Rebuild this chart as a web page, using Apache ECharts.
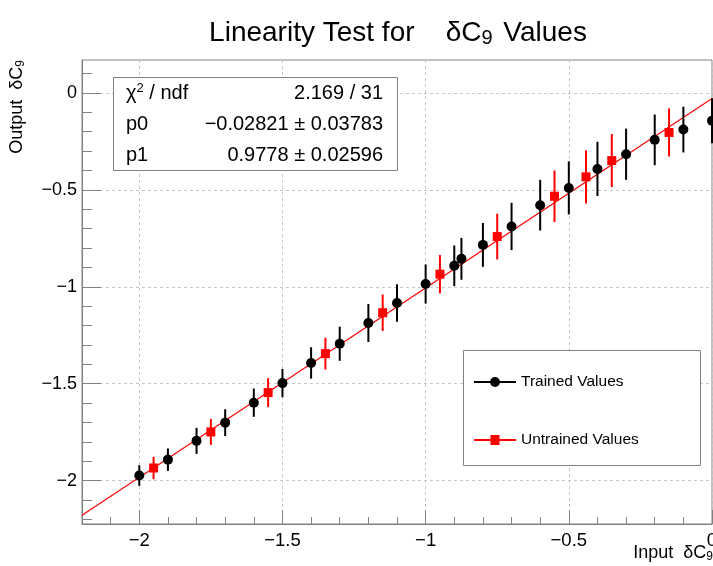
<!DOCTYPE html>
<html>
<head>
<meta charset="utf-8">
<script src="https://cdn.jsdelivr.net/npm/echarts@6/dist/echarts.min.js"></script>
<style>html,body{margin:0;padding:0;background:#fff}#c{width:713px;height:566px}</style>
</head>
<body>
<div id="c"></div>
<script>
// ---- data ----
const trainedX   = [-2.0, -1.9, -1.8, -1.7, -1.6, -1.5, -1.4, -1.3, -1.2, -1.1, -1.0, -0.9, -0.875, -0.8, -0.7, -0.6, -0.5, -0.4, -0.3, -0.2, -0.1, 0.0];
const trainedY   = [-1.974, -1.892, -1.795, -1.701, -1.598, -1.497, -1.393, -1.294, -1.187, -1.084, -0.986, -0.892, -0.856, -0.784, -0.689, -0.579, -0.490, -0.392, -0.316, -0.242, -0.189, -0.143];
const trainedErr = [0.053, 0.058, 0.067, 0.069, 0.073, 0.073, 0.081, 0.088, 0.098, 0.097, 0.101, 0.105, 0.108, 0.113, 0.122, 0.131, 0.137, 0.140, 0.132, 0.131, 0.118, 0.116];

const untrainedX   = [-1.95, -1.75, -1.55, -1.35, -1.15, -0.95, -0.75, -0.55, -0.44, -0.35, -0.15];
const untrainedY   = [-1.935, -1.749, -1.546, -1.345, -1.134, -0.935, -0.741, -0.533, -0.433, -0.349, -0.204];
const untrainedErr = [0.058, 0.067, 0.075, 0.082, 0.094, 0.099, 0.118, 0.133, 0.137, 0.137, 0.124];

const fitP0 = -0.02821, fitP0Err = 0.03783;
const fitP1 = 0.9778, fitP1Err = 0.02596;
const chi2 = 2.169, ndf = 31;
const fitRange = [-2.2, 0];

const xMajor = [-2, -1.5, -1, -0.5, 0];
const xMinor = [-2.2, -2.1, -2.0, -1.9, -1.8, -1.7, -1.6, -1.5, -1.4, -1.3, -1.2, -1.1, -1.0, -0.9, -0.8, -0.7, -0.6, -0.5, -0.4, -0.3, -0.2, -0.1, 0];
const yMajor = [-2, -1.5, -1, -0.5, 0];
const yMinor = [-2.2, -2.1, -2.0, -1.9, -1.8, -1.7, -1.6, -1.5, -1.4, -1.3, -1.2, -1.1, -1.0, -0.9, -0.8, -0.7, -0.6, -0.5, -0.4, -0.3, -0.2, -0.1, 0, 0.1];

const X_MIN = -2.2, X_MAX = 0, Y_MIN = -2.224, Y_MAX = 0.17;
// ---- chart ----
const FONT = "'Liberation Sans', Arial, Helvetica, sans-serif";
const fmt = v => (v < 0 ? '\u2212' : '') + Math.abs(+(+v).toFixed(5));
const AX = '#808080';

const pts = (xs, ys) => xs.map((x, i) => [x, ys[i]]);
const errData = (xs, ys, es) => xs.map((x, i) => [x, ys[i] - es[i], ys[i] + es[i]]);
function errBar(color) {
  return function (params, api) {
    const a = api.coord([api.value(0), api.value(1)]);
    const b = api.coord([api.value(0), api.value(2)]);
    return { type: 'line', shape: { x1: a[0], y1: a[1], x2: b[0], y2: b[1] },
             style: { stroke: color, lineWidth: 2 } };
  };
}

const circleIcon = 'path://M0,4 L42,4 L42,6 L0,6 Z M16,5 A5,5 0 1,1 26,5 A5,5 0 1,1 16,5 Z';
const squareIcon = 'path://M0,4 L42,4 L42,6 L0,6 Z M16.5,0 L25.5,0 L25.5,10 L16.5,10 Z';

const baseX = { type: 'value', min: X_MIN, max: X_MAX, position: 'bottom' };
const baseY = { type: 'value', min: Y_MIN, max: Y_MAX, position: 'left' };
const txt = (size) => ({ fontFamily: FONT, fontSize: size, fill: '#000', fontWeight: 'normal' });

const option = {
  animation: false,
  backgroundColor: '#fff',
  title: {
    text: '{a|Linearity Test for    \u03b4C}{s|9}{a| Values}',
    left: 393, top: 13, textAlign: 'center',
    textStyle: { fontWeight: 'normal', rich: {
      a: { fontFamily: FONT, fontSize: 28, color: '#000', fontWeight: 'normal', lineHeight: 30 },
      s: { fontFamily: FONT, fontSize: 20, color: '#000', fontWeight: 'normal', lineHeight: 20, verticalAlign: 'bottom', padding: [0, 3, 0, 0] }
    } }
  },
  grid: { left: 82, right: 1, top: 60, bottom: 42, show: true, borderColor: AX, borderWidth: 1,
          backgroundColor: 'transparent', containLabel: false, outerBoundsMode: 'none' },
  xAxis: [
    Object.assign({}, baseX, {
      axisLine: { show: true, onZero: false, lineStyle: { color: AX } },
      axisTick: { show: true, inside: true, length: 7, customValues: xMinor, lineStyle: { color: AX } },
      axisLabel: { show: false }, splitLine: { show: false }
    }),
    Object.assign({}, baseX, {
      axisLine: { show: false, onZero: false },
      axisTick: { show: true, inside: true, length: 14, customValues: xMajor, lineStyle: { color: AX } },
      axisLabel: { show: true, customValues: xMajor, formatter: fmt, fontFamily: FONT, fontSize: 18.5, color: '#000', margin: 7 },
      splitLine: { show: true, lineStyle: { color: '#c8c8c8', type: [3, 3], width: 1 } }
    })
  ],
  yAxis: [
    Object.assign({}, baseY, {
      axisLine: { show: true, onZero: false, lineStyle: { color: AX } },
      axisTick: { show: true, inside: true, length: 10, customValues: yMinor, lineStyle: { color: AX } },
      axisLabel: { show: false }, splitLine: { show: false }
    }),
    Object.assign({}, baseY, {
      axisLine: { show: false, onZero: false },
      axisTick: { show: true, inside: true, length: 19, customValues: yMajor, lineStyle: { color: AX } },
      axisLabel: { show: true, customValues: yMajor, formatter: fmt, fontFamily: FONT, fontSize: 18, color: '#000', margin: 5 },
      splitLine: { show: true, lineStyle: { color: '#c8c8c8', type: [3, 3], width: 1 } }
    })
  ],
  legend: {
    orient: 'vertical', left: 474, top: 374, padding: 0, itemWidth: 42, itemHeight: 10, itemGap: 42,
    selectedMode: false, z: 10,
    textStyle: { fontFamily: FONT, fontSize: 15.5, color: '#000', lineHeight: 16 },
    data: [{ name: 'Trained Values', icon: circleIcon }, { name: 'Untrained Values', icon: squareIcon }]
  },
  graphic: [
    { type: 'rect', z: 8, shape: { x: 113.5, y: 77.5, width: 284, height: 93 },
      style: { fill: '#fff', stroke: '#808080', lineWidth: 1 } },
    { type: 'text', z: 9, x: 126, y: 93, style: { text: '{a|\u03c7}{p|2}{a| / ndf}', verticalAlign: 'middle',
      rich: { a: Object.assign(txt(20), { lineHeight: 22 }), p: Object.assign(txt(13), { verticalAlign: 'top', lineHeight: 13 }) } } },
    { type: 'text', z: 9, x: 383, y: 93, style: Object.assign(txt(20), { text: chi2.toFixed(3) + ' / ' + ndf, align: 'right', verticalAlign: 'middle' }) },
    { type: 'text', z: 9, x: 126, y: 124, style: Object.assign(txt(20), { text: 'p0', verticalAlign: 'middle' }) },
    { type: 'text', z: 9, x: 383, y: 124, style: Object.assign(txt(20), { text: fmt(fitP0) + ' \u00b1 ' + fitP0Err.toFixed(5), align: 'right', verticalAlign: 'middle' }) },
    { type: 'text', z: 9, x: 126, y: 155, style: Object.assign(txt(20), { text: 'p1', verticalAlign: 'middle' }) },
    { type: 'text', z: 9, x: 383, y: 155, style: Object.assign(txt(20), { text: fitP1.toFixed(4) + ' \u00b1 ' + fitP1Err.toFixed(5), align: 'right', verticalAlign: 'middle' }) },
    { type: 'rect', z: 8, shape: { x: 463.5, y: 350.5, width: 237, height: 115 },
      style: { fill: '#fff', stroke: '#808080', lineWidth: 1 } },
    { type: 'text', z: 9, x: 17, y: 60, rotation: Math.PI / 2,
      style: { text: '{a|Output  \u03b4C}{s|9}', align: 'right', verticalAlign: 'middle',
        rich: { a: Object.assign(txt(18), { lineHeight: 20 }), s: Object.assign(txt(12), { verticalAlign: 'bottom', lineHeight: 12 }) } } },
    { type: 'text', z: 9, x: 713, y: 553,
      style: { text: '{a|Input  \u03b4C}{s|9}', align: 'right', verticalAlign: 'middle',
        rich: { a: Object.assign(txt(18), { lineHeight: 20 }), s: Object.assign(txt(12), { verticalAlign: 'bottom', lineHeight: 12 }) } } }
  ],
  series: [
    { name: 'fit', type: 'line', xAxisIndex: 0, yAxisIndex: 0, showSymbol: false, silent: true, z: 1,
      data: fitRange.map(x => [x, fitP0 + fitP1 * x]), lineStyle: { color: '#ff0000', width: 1.2 } },
    { name: 'trainedErr', type: 'custom', xAxisIndex: 0, yAxisIndex: 0, z: 2, silent: true,
      data: errData(trainedX, trainedY, trainedErr), renderItem: errBar('#000'), encode: { x: 0, y: [1, 2] } },
    { name: 'Trained Values', type: 'scatter', xAxisIndex: 0, yAxisIndex: 0, z: 3, symbol: 'circle', symbolSize: 10,
      itemStyle: { color: '#000', opacity: 1 }, data: pts(trainedX, trainedY) },
    { name: 'untrainedErr', type: 'custom', xAxisIndex: 0, yAxisIndex: 0, z: 4, silent: true,
      data: errData(untrainedX, untrainedY, untrainedErr), renderItem: errBar('#ff0000'), encode: { x: 0, y: [1, 2] } },
    { name: 'Untrained Values', type: 'scatter', xAxisIndex: 0, yAxisIndex: 0, z: 5, symbol: 'rect', symbolSize: 9,
      itemStyle: { color: '#ff0000', opacity: 1 }, data: pts(untrainedX, untrainedY) }
  ]
};
const chart = echarts.init(document.getElementById('c'), null, { renderer: 'canvas' });
chart.setOption(option);
</script>
</body>
</html>
